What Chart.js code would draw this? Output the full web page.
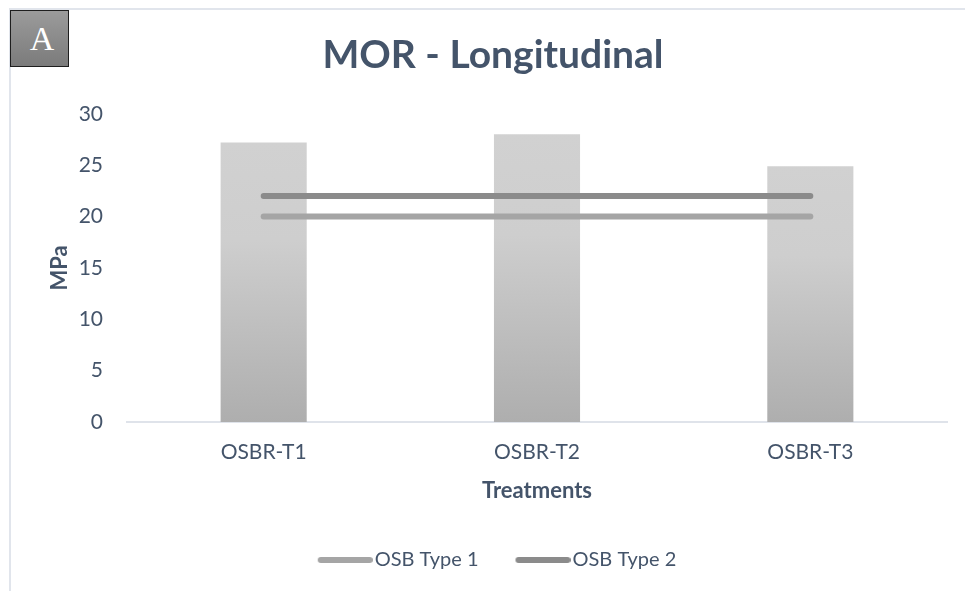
<!DOCTYPE html>
<html>
<head>
<meta charset="utf-8">
<title>MOR - Longitudinal</title>
<script src="https://cdn.jsdelivr.net/npm/chart.js@4/dist/chart.umd.min.js"></script>
<style>
  html, body { margin: 0; padding: 0; background: #ffffff; overflow: hidden; }
  #wrap { position: relative; width: 965px; height: 591px; }
  #chart { position: absolute; left: 0; top: 0; }
  #frame {
    position: absolute; left: 9px; top: 8px; right: 0; bottom: 0;
    border-top: 2px solid #e1e5ec; border-left: 2px solid #e1e5ec;
    pointer-events: none;
  }
  #panel {
    position: absolute; left: 10px; top: 10px; width: 59px; height: 57px;
    box-sizing: border-box;
    background: linear-gradient(#9b9b9b, #7b7b7b);
    border: 1.5px solid #1e1e1e;
    color: #ffffff; font-family: "Liberation Serif", serif; font-size: 34px;
    line-height: 56px; text-align: center; padding-left: 5px;
  }
</style>
</head>
<body>
<div id="wrap">
  <canvas id="chart" width="965" height="591"></canvas>
  <div id="frame"></div>
  <div id="panel">A</div>
</div>
<script>
// Treatments on the category axis
const treatments = ['OSBR-T1', 'OSBR-T2', 'OSBR-T3'];
// Modulus of rupture, longitudinal direction (MPa)
const morValues = [27.2, 28.0, 24.9];
// Reference requirement levels for OSB grades (MPa)
const osbType1 = [20, 20, 20];
const osbType2 = [22, 22, 22];
// Value axis ticks
const yTickValues = [0, 5, 10, 15, 20, 25, 30];

const TEXT = '#44546a';
const FONT = 'Lato';

function barFill(context) {
  const chart = context.chart;
  const { chartArea, scales } = chart;
  if (!chartArea || context.type !== 'data' || !scales.y) return '#c6c6c6';
  const top = scales.y.getPixelForValue(context.raw);
  const bottom = scales.y.getPixelForValue(0);
  const g = chart.ctx.createLinearGradient(0, top, 0, bottom);
  g.addColorStop(0, '#d1d1d1');
  g.addColorStop(0.35, '#cecece');
  g.addColorStop(1, '#aeaeae');
  return g;
}

// Legend swatch: a rounded stroke nudged right so it sits close to its text
function legendSwatch(color) {
  const len = 55, shift = 8, h = 8;
  const c = document.createElement('canvas');
  c.width = len + 2 * shift;
  c.height = h;
  const g = c.getContext('2d');
  g.strokeStyle = color;
  g.lineWidth = 6;
  g.lineCap = 'round';
  g.beginPath();
  g.moveTo(2 * shift + 3, h / 2);
  g.lineTo(c.width - 3, h / 2);
  g.stroke();
  return c;
}

const type1Color = '#a5a5a5';
const type2Color = '#8b8b8b';

new Chart(document.getElementById('chart'), {
  data: {
    labels: treatments,
    datasets: [
      {
        type: 'line',
        label: 'OSB Type 1',
        data: osbType1,
        borderColor: type1Color,
        backgroundColor: type1Color,
        borderWidth: 6,
        borderCapStyle: 'round',
        pointRadius: 0,
        pointStyle: legendSwatch(type1Color),
        order: 0
      },
      {
        type: 'line',
        label: 'OSB Type 2',
        data: osbType2,
        borderColor: type2Color,
        backgroundColor: type2Color,
        borderWidth: 6,
        borderCapStyle: 'round',
        pointRadius: 0,
        pointStyle: legendSwatch(type2Color),
        order: 0
      },
      {
        type: 'bar',
        label: 'MOR',
        data: morValues,
        backgroundColor: barFill,
        borderWidth: 0,
        categoryPercentage: 1,
        barPercentage: 0.315,
        order: 1
      }
    ]
  },
  options: {
    responsive: false,
    animation: false,
    devicePixelRatio: 1,
    layout: { padding: { left: 39, right: 18, top: 10, bottom: 11 } },
    plugins: {
      tooltip: { enabled: false },
      title: {
        display: true,
        text: 'MOR - Longitudinal',
        color: TEXT,
        font: { family: FONT, size: 39, weight: 'bold' },
        padding: { top: 22, bottom: 35 }
      },
      legend: {
        position: 'bottom',
        labels: {
          color: TEXT,
          font: { family: FONT, size: 20 },
          usePointStyle: true,
          pointStyleWidth: 55,
          padding: 29,
          filter: (item) => item.text !== 'MOR'
        }
      }
    },
    scales: {
      x: {
        grid: { display: false, drawTicks: false },
        border: { display: true, color: '#dfe3ea', width: 2 },
        ticks: { color: TEXT, font: { family: FONT, size: 21 }, padding: 18 },
        title: {
          display: true,
          text: 'Treatments',
          color: TEXT,
          font: { family: FONT, size: 22, weight: 'bold' },
          padding: { top: 10, bottom: 17 }
        },
        afterFit: (axis) => { axis.height = 99; }
      },
      y: {
        min: 0,
        max: 30,
        afterBuildTicks: (axis) => { axis.ticks = yTickValues.map(v => ({ value: v })); },
        grid: { display: false, drawTicks: false },
        border: { display: false },
        ticks: { color: TEXT, font: { family: FONT, size: 21 }, padding: 24 },
        title: {
          display: true,
          text: 'MPa',
          color: TEXT,
          font: { family: FONT, size: 22, weight: 'bold' },
          padding: { top: 8, bottom: 8 }
        },
        afterFit: (axis) => { axis.width = 88; }
      }
    }
  }
});
</script>
</body>
</html>
